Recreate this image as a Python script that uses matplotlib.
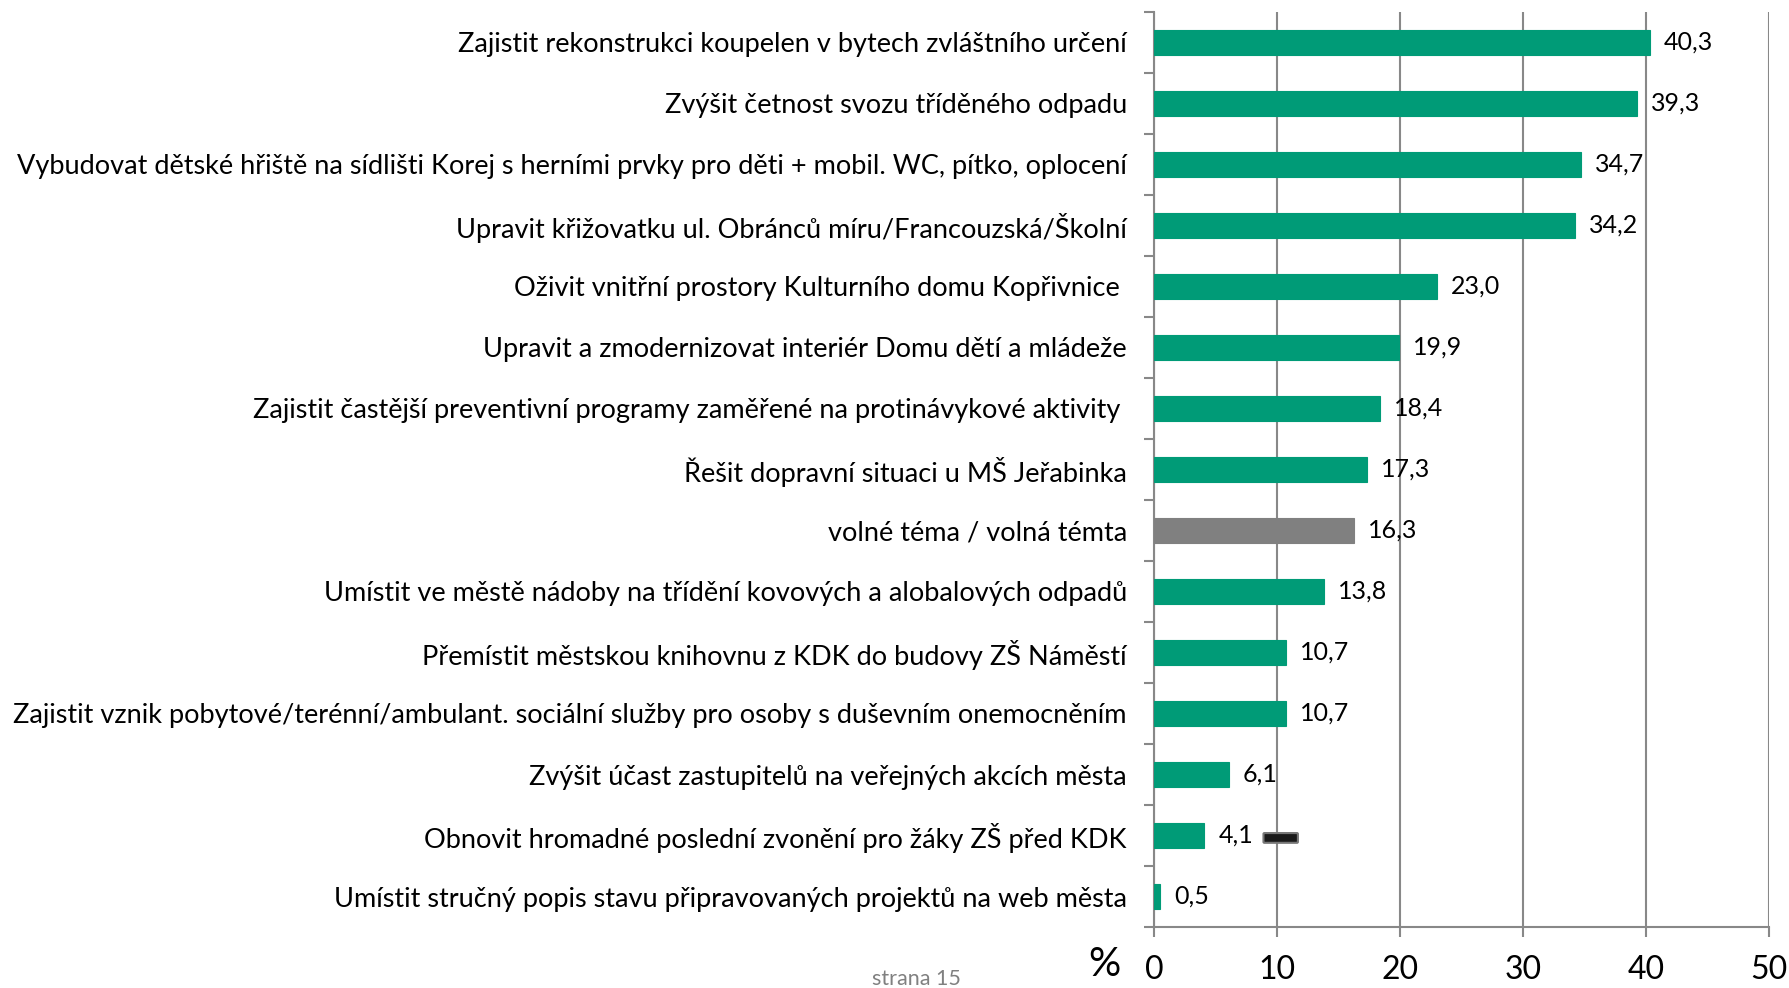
import matplotlib.pyplot as plt
from matplotlib.patches import FancyBboxPatch

plt.rcParams['font.family'] = ['Lato', 'DejaVu Sans']

categories = [
    "Zajistit rekonstrukci koupelen v bytech zvláštního určení",
    "Zvýšit četnost svozu tříděného odpadu",
    "Vybudovat dětské hřiště na sídlišti Korej s herními prvky pro děti + mobil. WC, pítko, oplocení",
    "Upravit křižovatku ul. Obránců míru/Francouzská/Školní",
    "Oživit vnitřní prostory Kulturního domu Kopřivnice ",
    "Upravit a zmodernizovat interiér Domu dětí a mládeže",
    "Zajistit častější preventivní programy zaměřené na protinávykové aktivity ",
    "Řešit dopravní situaci u MŠ Jeřabinka",
    "volné téma / volná témta",
    "Umístit ve městě nádoby na třídění kovových a alobalových odpadů",
    "Přemístit městskou knihovnu z KDK do budovy ZŠ Náměstí",
    "Zajistit vznik pobytové/terénní/ambulant. sociální služby pro osoby s duševním onemocněním",
    "Zvýšit účast zastupitelů na veřejných akcích města",
    "Obnovit hromadné poslední zvonění pro žáky ZŠ před KDK",
    "Umístit stručný popis stavu připravovaných projektů na web města",
]
values = [40.3, 39.3, 34.7, 34.2, 23.0, 19.9, 18.4, 17.3, 16.3, 13.8, 10.7, 10.7, 6.1, 4.1, 0.5]
grey_item = "volné téma / volná témta"
xticks = [0, 10, 20, 30, 40, 50]

green = "#009B77"
grey = "#808080"
colors = [grey if c == grey_item else green for c in categories]

fig = plt.figure(figsize=(17.89, 9.88), dpi=100)
ax = fig.add_axes([1154 / 1789, 1 - 927 / 988, (1769 - 1154) / 1789, (927 - 12) / 988])

n = len(categories)
ypos = list(range(n))
ax.barh(ypos, values, height=0.4, color=colors, edgecolor=colors, linewidth=0.8, zorder=3)
ax.set_ylim(n - 0.5, -0.5)
ax.set_xlim(0, 50)

for y, v in zip(ypos, values):
    ax.annotate(f"{v:.1f}".replace(".", ","), xy=(v, y), xytext=(10, 0),
                textcoords="offset points", va="center", ha="left", fontsize=18, zorder=4)

# small black marker shape next to the 4,1 label (present in the original)
ax.add_patch(FancyBboxPatch((8.9, 13.0 - 0.04), 2.8, 0.16,
                            boxstyle="round,pad=0,rounding_size=0.08",
                            facecolor="#1a1a1a", edgecolor="#777777", linewidth=1.5, zorder=5,
                            mutation_aspect=0.2))

ax.set_yticks(ypos)
ax.set_yticklabels(categories, fontsize=19.5)
ax.set_yticks([i - 0.5 for i in range(n + 1)], minor=True)
ax.tick_params(axis="y", which="major", length=0, pad=19.5)
ax.tick_params(axis="y", which="minor", length=7, color="#888888", width=1.5)

ax.set_xticks(xticks)
ax.tick_params(axis="x", length=7, color="#888888", width=1.5, labelsize=23, pad=13)

ax.grid(axis="x", color="#888888", linewidth=1.5, zorder=0)
ax.spines["top"].set_visible(False)
ax.spines["right"].set_visible(False)
for side in ["left", "bottom"]:
    ax.spines[side].set_color("#888888")
    ax.spines[side].set_linewidth(1.5)

fig.text(1104 / 1789, 1 - 964 / 988, "%", fontsize=29, ha="center", va="center")
fig.text(916 / 1789, 1 - 979 / 988, "strana 15", fontsize=15.5, color="#808080", ha="center", va="center")

fig.savefig("out.png", dpi=100)
